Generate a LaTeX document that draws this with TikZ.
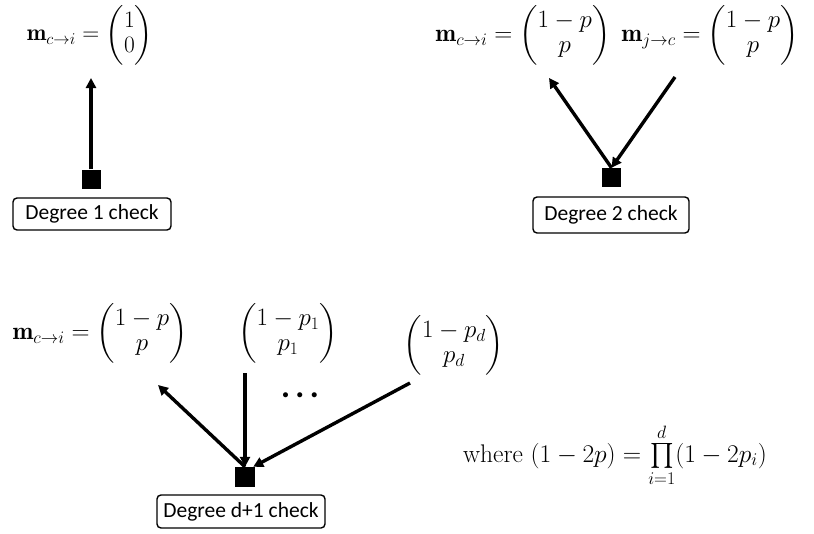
\documentclass[tikz,border=0pt]{standalone}
\usepackage{fix-cm}
\usepackage{amsmath}
\usepackage{fontspec}
\newfontfamily\boxfont{Carlito}
\usetikzlibrary{arrows.meta}
\renewcommand{\arraystretch}{0.85}
\tikzset{
  mathlbl/.style={inner sep=0pt, font=\fontsize{#1}{30}\selectfont},
  mathlbl/.default=25,
  chk/.style={draw=black, line width=1.4pt, rounded corners=4pt, inner sep=0pt,
              font=\boxfont\fontsize{21.5}{25}\selectfont},
  sq/.style={fill=black, inner sep=0pt, minimum size=#1},
  msg/.style={line width=3.4pt, -{Triangle[length=10pt,width=10pt]}},
}
\begin{document}
\begin{tikzpicture}[x=1pt,y=-1pt]
\useasboundingbox (0,0) rectangle (814,533);
% Degree 1
\node[mathlbl=23.5] (f1) at (90,35) {$\mathbf{m}_{c\to i} = \begin{pmatrix}1\\0\end{pmatrix}$};
\node[sq=19pt] (s1) at (91,179) {};
\coordinate (t1) at (91,78);
\node[chk, minimum width=158pt, minimum height=32pt] (b1) at (92,214) {Degree 1 check};
\draw[msg] (s1.north) -- (t1);
% Degree 2
\node[mathlbl] (f2) at (617,35) {$\mathbf{m}_{c\to i} = \begin{pmatrix}1-p\\p\end{pmatrix}\;\mathbf{m}_{j\to c} = \begin{pmatrix}1-p\\p\end{pmatrix}$};
\node[sq=19pt] (s2) at (611.5,177.5) {};
\coordinate (t2a) at (549,78);
\coordinate (t2b) at (675,77);
\node[chk, minimum width=156pt, minimum height=36pt] (b2) at (611,215) {Degree 2 check};
\draw[msg] (s2.north) -- (t2a);
\draw[msg] (t2b) -- (s2.north);
% Degree d+1
\node[mathlbl] (f3) at (100,333) {$\mathbf{m}_{c\to i} = \begin{pmatrix}1-p\\p\end{pmatrix}$};
\node[mathlbl] (f4) at (288,333) {$\begin{pmatrix}1-p_1\\p_1\end{pmatrix}$};
\node[mathlbl] (f5) at (454,345) {$\begin{pmatrix}1-p_d\\p_d\end{pmatrix}$};
\node[sq=20pt] (s3) at (245,477) {};
\coordinate (t3a) at (158,385);
\coordinate (t3b) at (245,373);
\coordinate (t3c) at (410,383);
\node[inner sep=0pt, font=\fontsize{13}{13}\selectfont] (dots) at (300,396) {$\bullet\hspace{5pt}\bullet\hspace{5pt}\bullet$};
\node[chk, minimum width=168pt, minimum height=33pt] (b3) at (241,511.5) {Degree d+1 check};
\draw[msg] (s3.north) -- (t3a);
\draw[msg] (t3b) -- (s3.north);
\draw[msg] (t3c) -- ([xshift=-2pt]s3.north east);
\node[mathlbl=25.5] (f6) at (615,455) {$\text{where } (1-2p) = \prod\limits_{i=1}^{d}(1-2p_i)$};
\end{tikzpicture}
\end{document}
